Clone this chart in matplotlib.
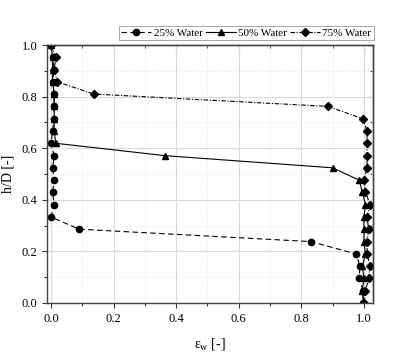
import matplotlib
matplotlib.use("Agg")
import matplotlib.pyplot as plt
from matplotlib.ticker import MultipleLocator, NullFormatter

plt.rcParams['font.family'] = ['Liberation Serif', 'DejaVu Serif']
plt.rcParams['mathtext.fontset'] = 'stix'

h = [1.0, 0.952, 0.905, 0.857, 0.810, 0.762, 0.714, 0.667, 0.619, 0.571, 0.524,
     0.476, 0.429, 0.381, 0.333, 0.286, 0.238, 0.190, 0.143, 0.095, 0.048, 0.0]
eps25 = [0.0, 0.005, 0.01, 0.005, 0.01, 0.01, 0.01, 0.005, 0.0, 0.01, 0.005,
         0.01, 0.005, 0.01, 0.0, 0.09, 0.83, 0.975, 0.987, 0.985, 0.997, 0.997]
eps50 = [0.0, 0.005, 0.005, 0.005, 0.01, 0.01, 0.01, 0.01, 0.015, 0.365, 0.90,
         0.985, 0.995, 1.005, 1.0, 1.0, 1.0, 1.005, 0.995, 1.0, 0.995, 1.0]
eps75 = [0.0, 0.015, 0.01, 0.02, 0.137, 0.885, 0.997, 1.01, 1.01, 1.01, 1.01,
         1.0, 1.005, 1.02, 1.01, 1.015, 1.01, 1.01, 1.02, 1.015, 1.005, 1.0]
labels = ['25% Water', '50% Water', '75% Water']
ticks = [0.0, 0.2, 0.4, 0.6, 0.8, 1.0]
tick_labels = ['0.0', '0.2', '0.4', '0.6', '0.8', '1.0']

fig = plt.figure(figsize=(4.0, 3.56), dpi=100)
ax = fig.add_axes([0.1175, 0.149, 0.815, 0.7245])

ax.plot(eps25, h, color='black', lw=0.8, ls=(0, (5, 3)), marker='o', ms=4.5, label=labels[0])
ax.plot(eps50, h, color='black', lw=0.8, ls='-', marker='^', ms=4.5, label=labels[1])
ax.plot(eps75, h, color='black', lw=0.8, ls=(0, (4, 1.5, 1, 1.5)), marker='D', ms=3.8, label=labels[2])

ax.set_xlim(-0.013, 1.029)
ax.set_ylim(0, 1)
ax.set_xticks(ticks)
ax.set_xticklabels(tick_labels)
ax.set_yticks(ticks)
ax.set_yticklabels(tick_labels)
ax.xaxis.set_minor_locator(MultipleLocator(0.1))
ax.yaxis.set_minor_locator(MultipleLocator(0.1))

ax.grid(which='major', color='#d9d9d9', lw=0.8, ls='-')
ax.grid(which='minor', color='#e6e6e6', lw=0.6, ls=':')
ax.set_axisbelow(True)

ax.tick_params(which='both', direction='out', labelsize=9, width=0.8, color='#333333')
ax.tick_params(which='major', length=3.5)
ax.tick_params(which='minor', length=2)
for s in ax.spines.values():
    s.set_linewidth(1.0)
    s.set_color('#444444')

sec_x = ax.secondary_xaxis('top')
sec_y = ax.secondary_yaxis('right')
sec_x.set_xticks(ticks)
sec_y.set_yticks(ticks)
sec_x.xaxis.set_minor_locator(MultipleLocator(0.1))
sec_y.yaxis.set_minor_locator(MultipleLocator(0.1))
sec_x.xaxis.set_major_formatter(NullFormatter())
sec_y.yaxis.set_major_formatter(NullFormatter())
for a in (sec_x, sec_y):
    a.tick_params(which='both', direction='in', width=0.8, color='#333333')
    a.tick_params(which='major', length=3.5)
    a.tick_params(which='minor', length=2)
    for s in a.spines.values():
        s.set_linewidth(1.0)
        s.set_color('#444444')

ax.set_xlabel(r'$\mathregular{\varepsilon_w}$ [-]', fontsize=10, labelpad=8)
ax.set_ylabel('h/D [-]', fontsize=10, labelpad=5)

leg = ax.legend(loc='lower right', bbox_to_anchor=(1.002, 1.02), ncol=3, fontsize=8,
                frameon=True, fancybox=False, edgecolor='#999999', framealpha=1,
                borderpad=0.2, handlelength=2.7, handletextpad=0.2, columnspacing=0.3,
                borderaxespad=0)
leg.get_frame().set_linewidth(0.6)

fig.savefig('out.png', dpi=100)
